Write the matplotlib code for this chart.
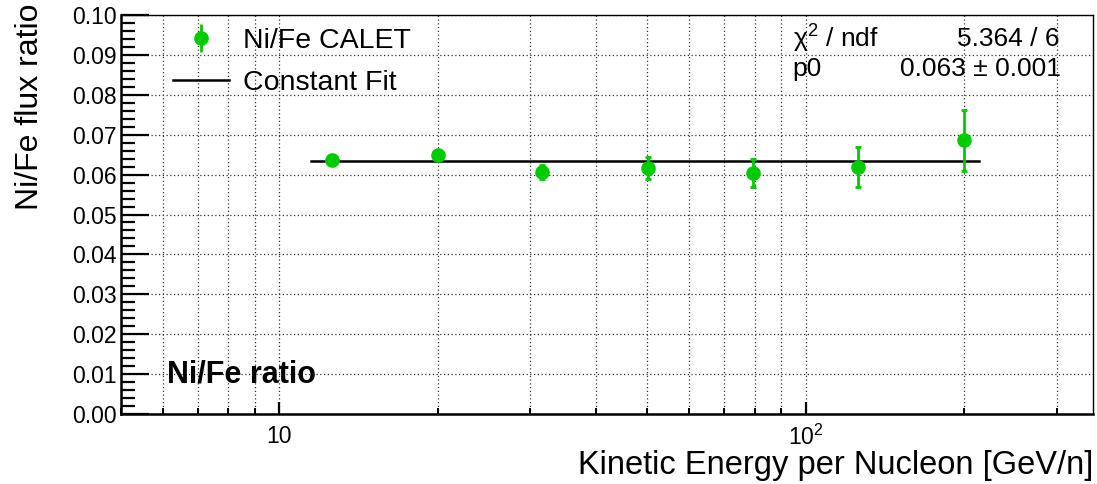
import numpy as np
import matplotlib
matplotlib.use('Agg')
import matplotlib.pyplot as plt
from matplotlib.ticker import LogLocator, FixedLocator, FixedFormatter, MultipleLocator, NullFormatter
from matplotlib.lines import Line2D

# Ni/Fe ratio measured by CALET
energia = [12.6, 20.0, 31.6, 50.1, 79.4, 126.0, 200.0]
cociente = [0.0637, 0.0650, 0.0607, 0.0617, 0.0604, 0.0618, 0.0686]
error = [0.0007, 0.0009, 0.0018, 0.0028, 0.0035, 0.0050, 0.0076]

# ajuste constante
p0 = 0.0634
rango_fit = [11.5, 214.0]

verde = '#00cc00'

plt.rcParams['font.family'] = ['Liberation Sans', 'DejaVu Sans']
plt.rcParams['mathtext.fontset'] = 'custom'
plt.rcParams['mathtext.rm'] = 'Liberation Sans'
plt.rcParams['mathtext.it'] = 'Liberation Sans:italic'

fig = plt.figure(figsize=(10.97, 4.84), dpi=100)
ax = fig.add_axes([0.1103, 0.1446, 0.8861, 0.8244])

ax.set_xscale('log')
ax.set_xlim(5.0, 352)
ax.set_ylim(0.0, 0.10)

# grilla punteada
ax.xaxis.set_major_locator(FixedLocator([10, 100]))
ax.xaxis.set_major_formatter(FixedFormatter(['10', r'$\mathregular{10^2}$']))
ax.xaxis.set_minor_locator(LogLocator(base=10, subs=np.arange(2, 10)))
ax.xaxis.set_minor_formatter(NullFormatter())
ax.yaxis.set_major_locator(MultipleLocator(0.01))
ax.yaxis.set_minor_locator(MultipleLocator(0.002))
ax.yaxis.set_major_formatter(plt.FuncFormatter(lambda v, p: f'{v:.2f}'))

ax.grid(which='major', axis='y', ls=(0, (1, 2)), color='#333333', lw=0.9)
ax.grid(which='both', axis='x', ls=(0, (1, 2)), color='#333333', lw=0.9)

ax.tick_params(which='both', direction='in', top=False, right=False, labelsize=16.5)
ax.tick_params(axis='y', which='major', length=20, width=1.6, pad=3)
ax.tick_params(axis='y', which='minor', length=10, width=1.6)
ax.tick_params(axis='x', which='major', length=9, width=1.6, pad=8)
ax.tick_params(axis='x', which='minor', length=4, width=1.4)

for s in ['left', 'bottom']:
    ax.spines[s].set_linewidth(1.8)
for s in ['top', 'right']:
    ax.spines[s].set_linewidth(1.0)

# datos
ax.plot(rango_fit, [p0, p0], color='black', lw=1.8, zorder=3)
ax.errorbar(energia, cociente, yerr=error, fmt='o', color=verde, ms=9.5,
            elinewidth=2, capsize=2.3, capthick=2, zorder=4)

# leyenda
h2 = Line2D([], [], color='black', lw=1.8)
eb = ax.errorbar([], [], yerr=[], fmt='o', color=verde, ms=9.5, elinewidth=2, capsize=2.3, capthick=2)
ax.legend([eb, h2], ['Ni/Fe CALET', 'Constant Fit'], loc='upper left',
          bbox_to_anchor=(0.033, 1.0175), frameon=False, fontsize=20.5,
          handlelength=1.97, labelspacing=0.56, handletextpad=0.5, borderaxespad=0.3)

# caja de estadística
ax.text(0.691, 0.94, 'χ$^{\\mathregular{2}}$ / ndf', transform=ax.transAxes, fontsize=19, va='center')
ax.text(0.965, 0.94, '5.364 / 6', transform=ax.transAxes, fontsize=19, va='center', ha='right')
ax.text(0.691, 0.865, 'p0', transform=ax.transAxes, fontsize=19, va='center')
ax.text(0.967, 0.865, '0.063 ± 0.001', transform=ax.transAxes, fontsize=19, va='center', ha='right')

ax.text(0.047, 0.1, 'Ni/Fe ratio', transform=ax.transAxes, fontsize=22, fontweight='bold', va='center')

fig.text(30 / 1097, 1 - 3 / 484, 'Ni/Fe flux ratio', rotation=90, ha='center', va='top', fontsize=23)
fig.text(1093 / 1097, 1 - 474 / 484, 'Kinetic Energy per Nucleon [GeV/n]', ha='right', va='baseline', fontsize=23.5)

fig.savefig('out.png', dpi=100)
